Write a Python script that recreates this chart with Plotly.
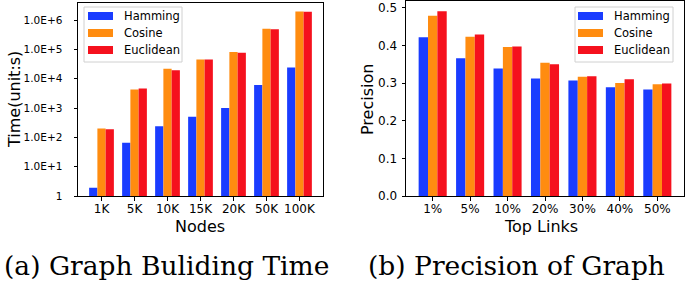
import plotly.graph_objects as go

# ---- data ----
nodes = ["1K", "5K", "10K", "15K", "20K", "50K", "100K"]
hamming_time = [1.9, 65, 240, 500, 1000, 6100, 24000]
cosine_time = [200, 4300, 22000, 45000, 81000, 500000, 1950000]
euclid_time = [190, 4600, 19500, 45000, 77000, 480000, 1900000]

links = ["1%", "5%", "10%", "20%", "30%", "40%", "50%"]
hamming_prec = [0.422, 0.366, 0.339, 0.312, 0.307, 0.289, 0.283]
cosine_prec = [0.479, 0.423, 0.396, 0.354, 0.317, 0.300, 0.297]
euclid_prec = [0.491, 0.429, 0.397, 0.350, 0.318, 0.310, 0.299]

series_names = ["Hamming", "Cosine", "Euclidean"]
log_tickvals = [1, 10, 100, 1000, 10000, 100000, 1000000]
log_ticktext = ["1", "1.0E+1", "1.0E+2", "1.0E+3", "1.0E+4", "1.0E+5", "1.0E+6"]
prec_tickvals = [0.0, 0.1, 0.2, 0.3, 0.4, 0.5]
captions = ["(a) Graph Buliding Time", "(b) Precision of Graph"]
x_titles = ["Nodes", "Top Links"]
y_titles = ["Time(unit:s)", "Precision"]

colors = ["#1a3cff", "#ff8c10", "#f5111d"]

W, H = 685, 285
def px(x):
    return x / W
def py(y):
    return 1 - y / H

fig = go.Figure()
for name, vals, c in zip(series_names, [hamming_time, cosine_time, euclid_time], colors):
    fig.add_trace(go.Bar(x=nodes, y=vals, name=name, marker=dict(color=c, line=dict(width=0)),
                         xaxis="x", yaxis="y", showlegend=False))
for name, vals, c in zip(series_names, [hamming_prec, cosine_prec, euclid_prec], colors):
    fig.add_trace(go.Bar(x=links, y=vals, name=name, marker=dict(color=c, line=dict(width=0)),
                         xaxis="x2", yaxis="y2", showlegend=False))

def tf(size):
    return dict(family="DejaVu Sans", size=size, color="black")

axis_common = dict(showline=True, linecolor="black", linewidth=1, mirror=True, showgrid=False,
                   ticks="outside", ticklen=3.5, tickwidth=1, tickcolor="black",
                   zeroline=False, automargin=False)

fig.update_layout(
    width=W, height=H,
    margin=dict(l=0, r=0, t=0, b=0),
    paper_bgcolor="white", plot_bgcolor="white",
    barmode="group", bargap=0.25, bargroupgap=0,
    xaxis=dict(domain=[px(78), px(323)], anchor="y", type="category",
               range=[-0.7125, 6.7125], tickfont=tf(12), ticklabelstandoff=-2, **axis_common),
    yaxis=dict(domain=[py(196), py(3)], anchor="x", type="log", range=[0, 6.58],
               tickvals=log_tickvals, ticktext=log_ticktext, ticklabelstandoff=9,
               tickfont=tf(10.5), **axis_common),
    xaxis2=dict(domain=[px(406), px(684)], anchor="y2", type="category",
                range=[-0.7125, 6.7125], tickfont=tf(12), ticklabelstandoff=-2, **axis_common),
    yaxis2=dict(domain=[py(196), py(1)], anchor="x2", range=[0, 0.518],
                tickvals=prec_tickvals, tickformat=".1f", ticklabelstandoff=2,
                tickfont=tf(12), **axis_common),
)

annotations = []
title_font = tf(16)
# axis titles
annotations.append(dict(text=x_titles[0], x=px(200), y=py(226), xref="paper", yref="paper",
                        showarrow=False, font=title_font, xanchor="center", yanchor="middle"))
annotations.append(dict(text=x_titles[1], x=px(541), y=py(226), xref="paper", yref="paper",
                        showarrow=False, font=title_font, xanchor="center", yanchor="middle"))
annotations.append(dict(text=y_titles[0], x=px(14), y=py(100), xref="paper", yref="paper",
                        showarrow=False, font=title_font, textangle=-90, xanchor="center", yanchor="middle"))
annotations.append(dict(text=y_titles[1], x=px(367), y=py(100), xref="paper", yref="paper",
                        showarrow=False, font=title_font, textangle=-90, xanchor="center", yanchor="middle"))
# captions
cap_font = dict(family="DejaVu Serif", size=26.5, color="black")
annotations.append(dict(text=captions[0], x=px(166), y=py(265), xref="paper", yref="paper",
                        showarrow=False, font=cap_font, xanchor="center", yanchor="middle"))
annotations.append(dict(text=captions[1], x=px(516), y=py(265), xref="paper", yref="paper",
                        showarrow=False, font=cap_font, xanchor="center", yanchor="middle"))

# custom legends (matplotlib style)
shapes = []
leg_font = tf(11.5)
for (bx0, bx1, patch_x0, text_x) in [(84, 182, 88, 122), (575, 673, 578, 612)]:
    shapes.append(dict(type="rect", xref="paper", yref="paper", x0=px(bx0), x1=px(bx1),
                       y0=py(62), y1=py(7), line=dict(color="#d0d0d0", width=1), fillcolor="white",
                       layer="above"))
    for i, (name, c) in enumerate(zip(series_names, colors)):
        yc = 16 + 17 * i
        shapes.append(dict(type="rect", xref="paper", yref="paper", x0=px(patch_x0), x1=px(patch_x0 + 25),
                           y0=py(yc + 4), y1=py(yc - 4), line=dict(width=0), fillcolor=c, layer="above"))
        annotations.append(dict(text=name, x=px(text_x), y=py(yc), xref="paper", yref="paper",
                                showarrow=False, font=leg_font, xanchor="left", yanchor="middle"))

fig.update_layout(annotations=annotations, shapes=shapes)
fig.write_html("out.html", config={"displayModeBar": False},
               post_script="document.body.style.margin='0';document.body.style.overflow='hidden';")
